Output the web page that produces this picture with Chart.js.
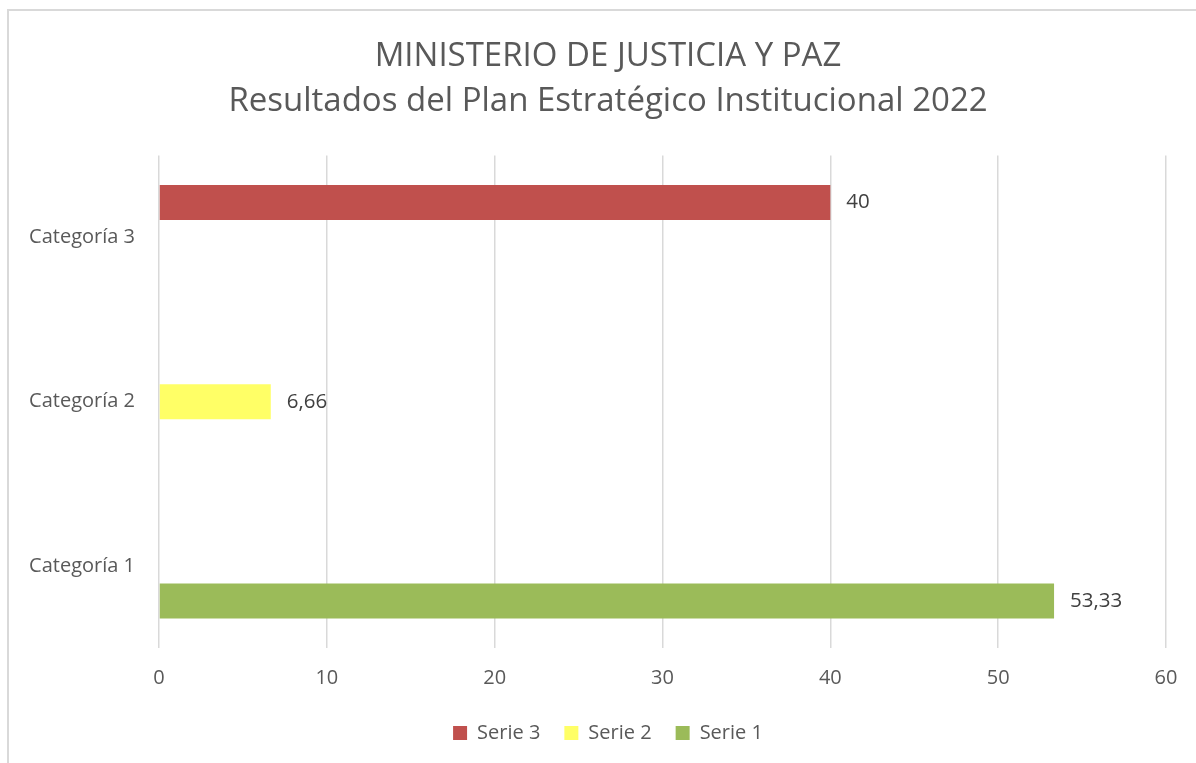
<!DOCTYPE html>
<html>
<head>
<meta charset="utf-8">
<script src="https://cdn.jsdelivr.net/npm/chart.js@4"></script>
<style>
  html, body { margin: 0; padding: 0; background: #fff; overflow: hidden; }
  #frame {
    position: absolute; left: 7px; top: 9px;
    width: 1198px; height: 760px;
    border-left: 2px solid #d9d9d9; border-top: 2px solid #d9d9d9;
  }
  #frame canvas { display: block; }
</style>
</head>
<body>
<div id="frame"><canvas id="chart" width="1198" height="752"></canvas></div>
<script>
const categories = ['Categoría 1', 'Categoría 2', 'Categoría 3'];
const serie3 = [null, null, 40];
const serie2 = [null, 6.66, null];
const serie1 = [53.33, null, null];
const xTicks = [0, 10, 20, 30, 40, 50, 60];

const textColor = '#595959';
const fontFamily = '"Open Sans", "DejaVu Sans", sans-serif';

// draws the value to the right of each bar, decimal comma like the original
const valueLabels = {
    id: 'valueLabels',
    afterDatasetsDraw(chart) {
        const ctx = chart.ctx;
        ctx.save();
        ctx.font = '20.5px ' + fontFamily;
        ctx.fillStyle = '#404040';
        ctx.textBaseline = 'middle';
        ctx.textAlign = 'left';
        chart.data.datasets.forEach((ds, i) => {
            const meta = chart.getDatasetMeta(i);
            meta.data.forEach((bar, j) => {
                const v = ds.data[j];
                if (v === null || v === undefined) return;
                ctx.fillText(String(v).replace('.', ','), bar.x + 16, bar.y);
            });
        });
        ctx.restore();
    }
};

const ctx = document.getElementById('chart').getContext('2d');

const chartData = {
    labels: categories,
    datasets: [
        { label: 'Serie 3', data: serie3, backgroundColor: '#c0504d' },
        { label: 'Serie 2', data: serie2, backgroundColor: '#ffff66' },
        { label: 'Serie 1', data: serie1, backgroundColor: '#9bbb59' }
    ]
};

const chartConfig = {
    type: 'bar',
    data: chartData,
    options: {
        indexAxis: 'y',
        responsive: false,
        animation: false,
        categoryPercentage: 0.64,
        barPercentage: 1.0,
        layout: {
            padding: { left: 0, right: 0, top: 0, bottom: 10 }
        },
        plugins: {
            title: {
                display: true,
                text: ['MINISTERIO DE JUSTICIA Y PAZ', 'Resultados del Plan Estratégico Institucional 2022'],
                color: textColor,
                font: { family: fontFamily, size: 33, weight: 'normal', lineHeight: 1.37 },
                padding: { top: 23, bottom: 31 }
            },
            legend: {
                position: 'bottom',
                labels: {
                    color: textColor,
                    font: { family: fontFamily, size: 20 },
                    boxWidth: 14,
                    boxHeight: 14,
                    padding: 24
                }
            },
            tooltip: { enabled: false }
        },
        scales: {
            x: {
                min: 0,
                max: 60,
                afterBuildTicks: s => { s.ticks = xTicks.map(v => ({ value: v })); },
                afterFit: s => { s.height = 51; },
                grid: { color: '#d9d9d9', lineWidth: 1.5, drawTicks: false },
                border: { display: false },
                ticks: {
                    color: textColor,
                    font: { family: fontFamily, size: 20 },
                    padding: 18
                }
            },
            y: {
                reverse: true,
                afterFit: s => { s.width = 150; },
                grid: { display: false, drawTicks: false },
                border: { display: false },
                ticks: {
                    color: textColor,
                    font: { family: fontFamily, size: 20 },
                    padding: 24
                }
            },
            // empty space on the right so title and legend stay centred on the frame
            rightGap: {
                axis: 'y',
                type: 'category',
                position: 'right',
                afterFit: s => { s.width = 41; },
                grid: { display: false, drawTicks: false },
                border: { display: false },
                ticks: { display: false }
            }
        }
    },
    plugins: [valueLabels]
};

const myChart = new Chart(ctx, chartConfig);
</script>
</body>
</html>
